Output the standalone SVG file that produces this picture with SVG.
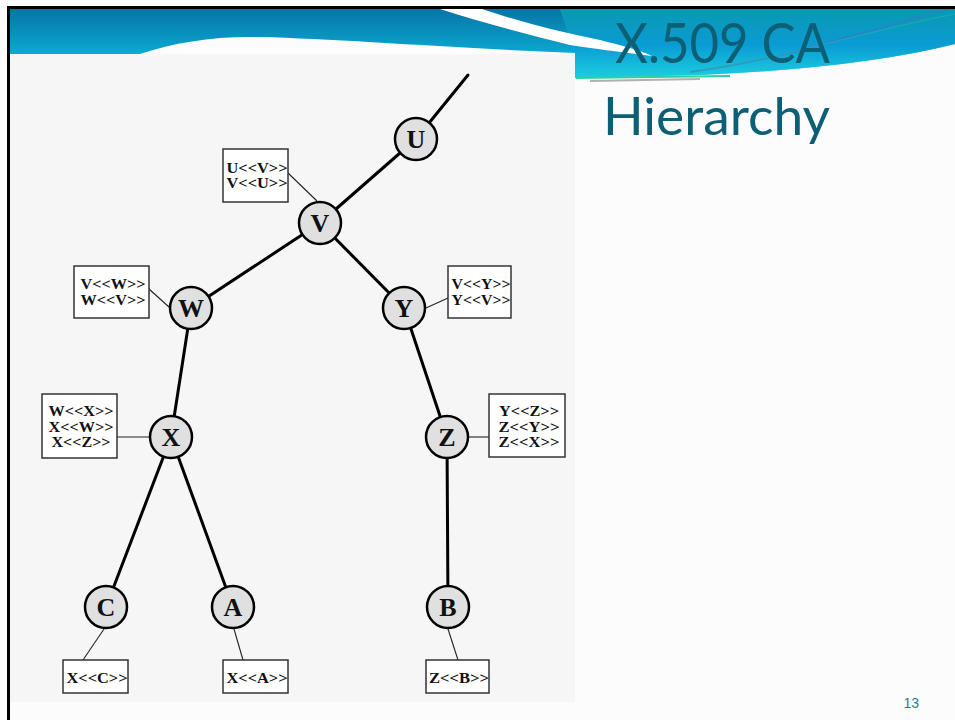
<svg xmlns="http://www.w3.org/2000/svg" width="955" height="720" viewBox="0 0 955 720">
<defs>
<linearGradient id="hdr" gradientUnits="userSpaceOnUse" x1="0" y1="9" x2="0" y2="80">
<stop offset="0" stop-color="#0874a6"/>
<stop offset="0.55" stop-color="#0aa2cc"/>
<stop offset="1" stop-color="#1ecfe0"/>
</linearGradient>
<linearGradient id="hdrR" gradientUnits="userSpaceOnUse" x1="0" y1="9" x2="0" y2="80">
<stop offset="0" stop-color="#0aa9b6"/>
<stop offset="0.5" stop-color="#0a9ad8"/>
<stop offset="1" stop-color="#1ed2e0"/>
</linearGradient>
<style>
.node circle{fill:#e0e0e0;stroke:#000;stroke-width:2.5}
.node text{font-family:"Liberation Serif",serif;font-weight:bold;font-size:26px;text-anchor:middle;fill:#111}
.cert rect{fill:#fff;stroke:#333;stroke-width:1.5}
.cert text{font-family:"Liberation Serif",serif;font-weight:bold;font-size:14px;text-anchor:middle;fill:#111}
.edge{stroke:#000;stroke-width:3;stroke-linecap:round}
.tie{stroke:#222;stroke-width:1.1}
.title{font-family:Lato,"Open Sans",sans-serif;fill:#0d5f75}
</style>
</defs>
<rect width="955" height="720" fill="#fcfcfc"/>
<!-- header -->
<path d="M10,9 H955 V44 Q860,68 700,75 L575,78 V54 H10 Z" fill="url(#hdr)"/>
<path d="M560,9 H955 V44 Q860,68 700,75 L575,78 V54 Z" fill="url(#hdrR)" opacity="0.7"/>
<path d="M140,54 C175,42 215,36 260,37 C340,39 450,48 575,53 V54 Z" fill="#fcfcfc"/>
<path d="M440,9 H482 C520,22 560,32 600,40 C620,45 640,50 652,56 C620,52 590,48 570,45 C530,35 480,22 440,9 Z" fill="#ffffff"/>
<path d="M690,72 C780,60 870,30 952,8" fill="none" stroke="#3a78c8" stroke-width="2" opacity="0.6"/>
<path d="M700,70 C790,56 880,28 955,14" fill="none" stroke="#30c0a0" stroke-width="1.2" opacity="0.5"/>
<path d="M576,78 L730,76" stroke="#2fcf9f" stroke-width="2"/>
<path d="M590,81 L700,79" stroke="#b0b0b0" stroke-width="2"/>
<!-- image panel -->
<rect x="10" y="54" width="565" height="648" fill="#f6f6f6"/>
<!-- frame -->
<rect x="7" y="6" width="948" height="3" fill="#000"/>
<rect x="7" y="6" width="3" height="714" fill="#000"/>
<!-- title -->
<text class="title" x="615" y="63" font-size="57" textLength="215" lengthAdjust="spacingAndGlyphs">X.509 CA</text>
<text class="title" x="603" y="135" font-size="52" textLength="227" lengthAdjust="spacingAndGlyphs">Hierarchy</text>
<text x="919" y="708" font-family="Liberation Sans,Arial,sans-serif" font-size="14" fill="#1a7f9a" text-anchor="end">13</text>
<!-- connectors -->
<g id="connectors">
<line class="edge" x1="416" y1="139" x2="468" y2="75"/>
<line class="edge" x1="416" y1="139" x2="320" y2="223"/>
<line class="edge" x1="320" y1="223" x2="191" y2="308"/>
<line class="edge" x1="320" y1="223" x2="404" y2="308"/>
<line class="edge" x1="191" y1="308" x2="171" y2="437"/>
<line class="edge" x1="404" y1="308" x2="447" y2="437"/>
<line class="edge" x1="171" y1="437" x2="106" y2="607"/>
<line class="edge" x1="171" y1="437" x2="233" y2="607"/>
<line class="edge" x1="447" y1="437" x2="448" y2="607"/>
<line class="tie" x1="288" y1="173" x2="317" y2="201"/>
<line class="tie" x1="149" y1="289" x2="169" y2="307"/>
<line class="tie" x1="117" y1="437" x2="150" y2="437"/>
<line class="tie" x1="426" y1="308" x2="448" y2="298"/>
<line class="tie" x1="468" y1="437" x2="489" y2="437"/>
<line class="tie" x1="104" y1="629" x2="83" y2="660"/>
<line class="tie" x1="234" y1="629" x2="243" y2="660"/>
<line class="tie" x1="448" y1="629" x2="458" y2="660"/>
</g>
<!-- nodes -->
<g id="node-U" class="node"><circle cx="416" cy="139" r="21"/><text x="416" y="148">U</text></g>
<g id="node-V" class="node"><circle cx="320" cy="223" r="21"/><text x="320" y="232">V</text></g>
<g id="node-W" class="node"><circle cx="191" cy="308" r="21"/><text x="191" y="317">W</text></g>
<g id="node-Y" class="node"><circle cx="404" cy="308" r="21"/><text x="404" y="317">Y</text></g>
<g id="node-X" class="node"><circle cx="171" cy="437" r="21"/><text x="171" y="446">X</text></g>
<g id="node-Z" class="node"><circle cx="447" cy="437" r="21"/><text x="447" y="446">Z</text></g>
<g id="node-C" class="node"><circle cx="106" cy="607" r="21"/><text x="106" y="616">C</text></g>
<g id="node-A" class="node"><circle cx="233" cy="607" r="21"/><text x="233" y="616">A</text></g>
<g id="node-B" class="node"><circle cx="448" cy="607" r="21"/><text x="448" y="616">B</text></g>
<!-- certificate boxes -->
<g id="cert-U" class="cert"><rect x="223" y="149" width="65" height="53"/><text x="257" y="173" textLength="61" lengthAdjust="spacingAndGlyphs">U&lt;&lt;V&gt;&gt;</text><text x="257" y="188" textLength="61" lengthAdjust="spacingAndGlyphs">V&lt;&lt;U&gt;&gt;</text></g>
<g id="cert-W" class="cert"><rect x="74" y="266" width="75" height="52"/><text x="113" y="289" textLength="65" lengthAdjust="spacingAndGlyphs">V&lt;&lt;W&gt;&gt;</text><text x="113" y="305" textLength="65" lengthAdjust="spacingAndGlyphs">W&lt;&lt;V&gt;&gt;</text></g>
<g id="cert-X" class="cert"><rect x="42" y="394" width="75" height="64"/><text x="81" y="416" textLength="65" lengthAdjust="spacingAndGlyphs">W&lt;&lt;X&gt;&gt;</text><text x="81" y="432" textLength="65" lengthAdjust="spacingAndGlyphs">X&lt;&lt;W&gt;&gt;</text><text x="81" y="447" textLength="59" lengthAdjust="spacingAndGlyphs">X&lt;&lt;Z&gt;&gt;</text></g>
<g id="cert-Y" class="cert"><rect x="448" y="266" width="63" height="52"/><text x="481" y="289" textLength="59" lengthAdjust="spacingAndGlyphs">V&lt;&lt;Y&gt;&gt;</text><text x="481" y="305" textLength="59" lengthAdjust="spacingAndGlyphs">Y&lt;&lt;V&gt;&gt;</text></g>
<g id="cert-Z" class="cert"><rect x="489" y="394" width="76" height="63"/><text x="529" y="416" textLength="60" lengthAdjust="spacingAndGlyphs">Y&lt;&lt;Z&gt;&gt;</text><text x="529" y="432" textLength="61" lengthAdjust="spacingAndGlyphs">Z&lt;&lt;Y&gt;&gt;</text><text x="529" y="447" textLength="61" lengthAdjust="spacingAndGlyphs">Z&lt;&lt;X&gt;&gt;</text></g>
<g id="cert-C" class="cert"><rect x="63" y="660" width="65" height="33"/><text x="97" y="683" textLength="61" lengthAdjust="spacingAndGlyphs">X&lt;&lt;C&gt;&gt;</text></g>
<g id="cert-A" class="cert"><rect x="223" y="660" width="65" height="33"/><text x="257" y="683" textLength="61" lengthAdjust="spacingAndGlyphs">X&lt;&lt;A&gt;&gt;</text></g>
<g id="cert-B" class="cert"><rect x="426" y="660" width="63" height="33"/><text x="459" y="683" textLength="60" lengthAdjust="spacingAndGlyphs">Z&lt;&lt;B&gt;&gt;</text></g>
</svg>
